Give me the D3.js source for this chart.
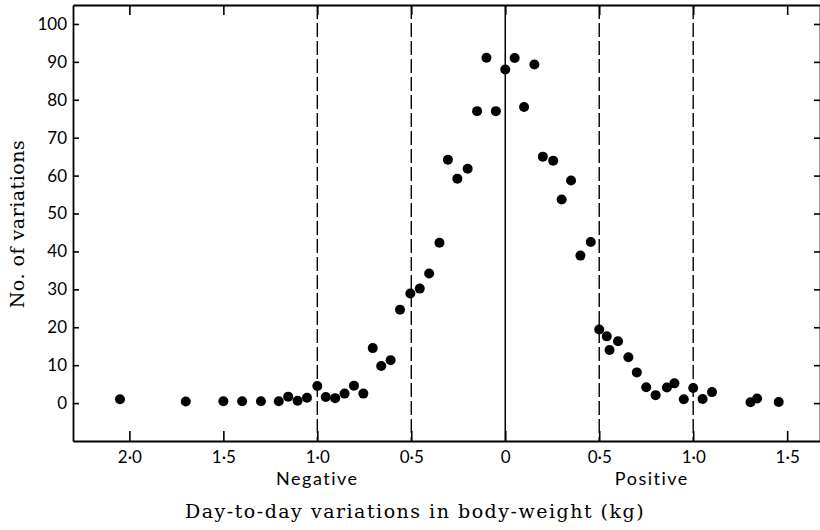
<!DOCTYPE html>
<html lang="en">
<head>
<meta charset="UTF-8">
<title>Day-to-day variations in body-weight</title>
<script src="https://d3js.org/d3.v7.min.js"></script>
<style>
  body { margin: 0; background: #fff; }
  svg { display: block; }
</style>
</head>
<body>
<script>
// day-to-day change in body weight (kg, negative = loss) and number of variations
var weightChange = [-2.05, -1.70, -1.50, -1.40, -1.30, -1.205, -1.155, -1.105, -1.055, -1.00,
    -0.955, -0.905, -0.855, -0.805, -0.755, -0.705, -0.66, -0.61, -0.56, -0.505,
    -0.455, -0.405, -0.35, -0.305, -0.255, -0.20, -0.15, -0.10, -0.05, 0.0,
    0.05, 0.10, 0.155, 0.20, 0.255, 0.30, 0.35, 0.40, 0.455,
    0.50, 0.54, 0.555, 0.60, 0.655, 0.70, 0.75, 0.80, 0.86, 0.90,
    0.95, 1.00, 1.05, 1.10, 1.305, 1.34, 1.455];
var numVariations = [1.0, 0.4, 0.5, 0.5, 0.5, 0.5, 1.7, 0.6, 1.4, 4.5,
    1.6, 1.3, 2.5, 4.6, 2.5, 14.5, 9.8, 11.3, 24.6, 28.9,
    30.2, 34.2, 42.3, 64.2, 59.2, 61.8, 77.0, 91.1, 77.0, 88.0,
    91.0, 78.1, 89.3, 65.0, 63.9, 53.7, 58.7, 38.9, 42.5,
    19.4, 17.6, 14.0, 16.3, 12.1, 8.1, 4.2, 2.1, 4.1, 5.2,
    1.0, 4.0, 1.1, 2.9, 0.2, 1.2, 0.3];

var xTickValues = [-2.0, -1.5, -1.0, -0.5, 0, 0.5, 1.0, 1.5];
var xTickLabels = ["2\u00b70", "1\u00b75", "1\u00b70", "0\u00b75", "0", "0\u00b75", "1\u00b70", "1\u00b75"];
var yTickValues = [0, 10, 20, 30, 40, 50, 60, 70, 80, 90, 100];
var dashedAt = [-1.0, -0.5, 0.5, 1.0];

var width = 820, height = 530;
// frame edges (right edge sits just past the picture)
var plotLeft = 73, plotRight = 821, plotTop = 5, plotBottom = 441;

var svg = d3.select("body").append("svg")
    .attr("width", width)
    .attr("height", height);

var x = d3.scaleLinear().domain([-2.3, 1.68]).range([plotLeft, plotRight]);
var y = d3.scaleLinear().domain([-10, 105]).range([plotBottom, plotTop]);

var sans = "Lato, 'Noto Sans', sans-serif";
var serif = "'DejaVu Serif', 'Liberation Serif', serif";

// guide lines
svg.append("line")
    .attr("x1", x(0)).attr("x2", x(0))
    .attr("y1", plotTop).attr("y2", plotBottom)
    .attr("stroke", "#000").attr("stroke-width", 1.5);

svg.selectAll(".dash")
    .data(dashedAt)
    .enter().append("line")
    .attr("class", "dash")
    .attr("x1", d => x(d)).attr("x2", d => x(d))
    .attr("y1", plotTop).attr("y2", plotBottom)
    .attr("stroke", "#000")
    .attr("stroke-width", 1.4)
    .attr("stroke-dasharray", "14,4");

// axes (ticks point inward)
var fmt = function (d, i) { return xTickLabels[i]; };

var gBottom = svg.append("g")
    .attr("transform", "translate(0," + plotBottom + ")")
    .call(d3.axisBottom(x).tickValues(xTickValues).tickFormat(fmt)
        .tickSizeInner(-10).tickSizeOuter(0).tickPadding(10));

var gTop = svg.append("g")
    .attr("transform", "translate(0," + plotTop + ")")
    .call(d3.axisTop(x).tickValues(xTickValues).tickFormat("")
        .tickSizeInner(-10).tickSizeOuter(0));

var gLeft = svg.append("g")
    .attr("transform", "translate(" + plotLeft + ",0)")
    .call(d3.axisLeft(y).tickValues(yTickValues)
        .tickSizeInner(-6).tickSizeOuter(0).tickPadding(6));

var gRight = svg.append("g")
    .attr("transform", "translate(" + (plotRight - 1) + ",0)")
    .call(d3.axisRight(y).tickValues(yTickValues).tickFormat("")
        .tickSizeInner(-6).tickSizeOuter(0));

[gBottom, gTop, gLeft, gRight].forEach(function (g) {
    g.selectAll("path.domain").attr("stroke", "#000").attr("stroke-width", 1.8);
    g.selectAll(".tick line").attr("stroke", "#000").attr("stroke-width", 1.6);
    g.selectAll(".tick text")
        .attr("fill", "#000")
        .style("font-family", sans)
        .style("font-size", "17px");
});

// points
svg.selectAll("circle")
    .data(weightChange.map((d, i) => ({ x: d, y: numVariations[i] })))
    .enter().append("circle")
    .attr("cx", d => x(d.x))
    .attr("cy", d => y(d.y))
    .attr("r", 5)
    .attr("fill", "#000");

// labels
svg.append("text")
    .attr("x", x(-1.0)).attr("y", 485)
    .attr("text-anchor", "middle")
    .style("font-family", sans).style("font-size", "18px")
    .style("letter-spacing", "1.5px")
    .text("Negative");

svg.append("text")
    .attr("x", x(0.78)).attr("y", 485)
    .attr("text-anchor", "middle")
    .style("font-family", sans).style("font-size", "18px")
    .style("letter-spacing", "1.5px")
    .text("Positive");

svg.append("text")
    .attr("x", 415).attr("y", 518)
    .attr("text-anchor", "middle")
    .style("font-family", serif).style("font-size", "19px")
    .style("letter-spacing", "1.5px")
    .text("Day-to-day variations in body-weight (kg)");

svg.append("text")
    .attr("transform", "translate(24,224) rotate(-90)")
    .attr("text-anchor", "middle")
    .style("font-family", serif).style("font-size", "19px")
    .style("letter-spacing", "0.5px")
    .text("No. of variations");
</script>
</body>
</html>
